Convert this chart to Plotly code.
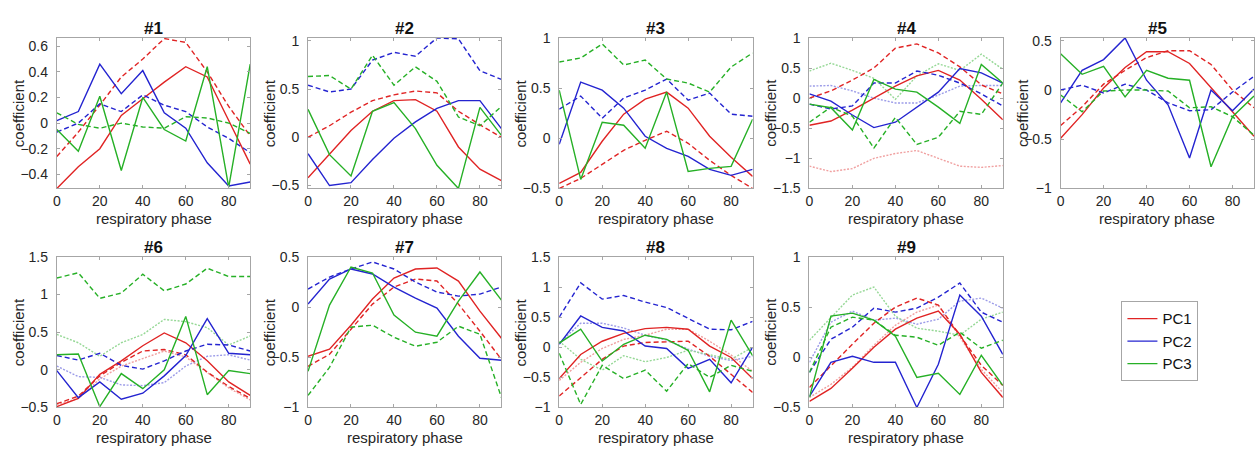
import plotly.graph_objects as go

PHASE = [0, 10, 20, 30, 40, 50, 60, 70, 80, 90]
X_TICKS = [0, 20, 40, 60, 80]
TITLES = ["#1", "#2", "#3", "#4", "#5", "#6", "#7", "#8", "#9"]
LEGEND_NAMES = ["PC1", "PC2", "PC3"]

# ---- panel #1
P1_PC1 = [-0.51, -0.34, -0.20, 0.06, 0.19, 0.32, 0.44, 0.36, 0.02, -0.32]
P1_PC1_DASH = [-0.26, -0.07, 0.14, 0.36, 0.50, 0.66, 0.63, 0.40, 0.13, -0.10]
P1_PC2 = [0.02, 0.09, 0.46, 0.23, 0.41, 0.08, -0.04, -0.31, -0.49, -0.46]
P1_PC2_DASH = [-0.07, 0.00, 0.15, 0.09, 0.22, 0.14, 0.09, -0.03, -0.12, -0.23]
P1_PC3 = [-0.05, -0.22, 0.21, -0.37, 0.20, -0.05, -0.14, 0.44, -0.50, 0.46]
P1_PC3_DASH = [0.08, -0.01, -0.04, 0.00, -0.03, -0.04, 0.05, 0.04, 0.00, -0.08]

# ---- panel #2
P2_PC1 = [-0.42, -0.17, 0.07, 0.27, 0.38, 0.39, 0.27, -0.10, -0.33, -0.45]
P2_PC1_DASH = [0.00, 0.12, 0.26, 0.38, 0.44, 0.48, 0.46, 0.27, 0.13, 0.00]
P2_PC2 = [-0.17, -0.50, -0.47, -0.23, -0.01, 0.16, 0.30, 0.38, 0.38, 0.09]
P2_PC2_DASH = [0.54, 0.47, 0.50, 0.80, 0.88, 0.84, 1.03, 1.02, 0.69, 0.60]
P2_PC3 = [0.29, -0.18, -0.40, 0.27, 0.36, 0.09, -0.29, -0.53, 0.31, 0.02]
P2_PC3_DASH = [0.63, 0.64, 0.50, 0.85, 0.54, 0.73, 0.58, 0.21, 0.12, 0.32]

# ---- panel #3
P3_PC1 = [-0.45, -0.34, -0.03, 0.24, 0.39, 0.46, 0.30, 0.02, -0.19, -0.38]
P3_PC1_DASH = [-0.50, -0.40, -0.26, -0.12, -0.02, 0.07, -0.05, -0.22, -0.37, -0.50]
P3_PC2 = [-0.06, 0.56, 0.48, 0.30, 0.02, -0.10, -0.18, -0.31, -0.37, -0.31]
P3_PC2_DASH = [0.29, 0.42, 0.20, 0.40, 0.48, 0.59, 0.38, 0.45, 0.24, 0.22]
P3_PC3 = [0.48, -0.41, 0.16, 0.13, -0.10, 0.46, -0.33, -0.30, -0.28, 0.19]
P3_PC3_DASH = [0.76, 0.80, 0.94, 0.73, 0.78, 0.59, 0.55, 0.46, 0.71, 0.85]

# ---- panel #4
P4_PC1 = [-0.45, -0.38, -0.20, 0.00, 0.20, 0.37, 0.46, 0.30, -0.02, -0.36]
P4_PC1_DASH = [0.00, 0.12, 0.30, 0.50, 0.83, 0.90, 0.75, 0.52, 0.22, 0.07]
P4_PC1_DOT = [-1.13, -1.22, -1.17, -1.00, -0.92, -0.87, -1.00, -1.13, -1.15, -1.12]
P4_PC2 = [0.07, -0.05, -0.28, -0.49, -0.40, -0.15, 0.10, 0.49, 0.42, 0.25]
P4_PC2_DASH = [-0.10, -0.18, -0.13, 0.25, 0.25, 0.45, 0.38, 0.25, 0.07, -0.13]
P4_PC2_DOT = [0.20, 0.21, 0.12, 0.00, -0.08, -0.08, 0.05, 0.20, 0.21, 0.21]
P4_PC3 = [-0.10, -0.16, -0.53, 0.31, 0.15, 0.10, -0.15, -0.42, 0.56, 0.25]
P4_PC3_DASH = [-0.40, -0.15, -0.30, -0.83, -0.32, -0.77, -0.65, -0.22, -0.27, 0.25]
P4_PC3_DOT = [0.45, 0.58, 0.46, 0.33, -0.02, 0.37, 0.57, 0.46, 0.73, 0.48]

# ---- panel #5
P5_PC1 = [-0.49, -0.25, 0.02, 0.23, 0.39, 0.39, 0.27, 0.03, -0.22, -0.47]
P5_PC1_DASH = [-0.36, -0.17, 0.06, 0.20, 0.33, 0.40, 0.40, 0.26, 0.00, -0.18]
P5_PC2 = [-0.13, 0.20, 0.31, 0.53, 0.10, -0.15, -0.69, 0.00, -0.21, 0.01]
P5_PC2_DASH = [0.00, 0.05, -0.03, 0.06, 0.00, -0.13, -0.21, -0.20, -0.02, 0.14]
P5_PC3 = [0.37, 0.16, 0.24, -0.07, 0.20, 0.12, 0.10, -0.78, -0.27, -0.06]
P5_PC3_DASH = [-0.05, -0.22, -0.01, 0.00, 0.00, -0.01, -0.18, -0.17, -0.27, -0.46]

# ---- panel #6
P6_PC1 = [-0.49, -0.38, -0.06, 0.12, 0.32, 0.49, 0.36, 0.12, -0.16, -0.34]
P6_PC1_DASH = [-0.45, -0.35, -0.08, 0.10, 0.25, 0.27, 0.20, -0.03, -0.22, -0.38]
P6_PC1_DOT = [-0.46, -0.38, -0.12, 0.05, 0.15, 0.25, 0.17, -0.04, -0.24, -0.40]
P6_PC2 = [-0.01, -0.37, -0.16, -0.39, -0.31, -0.08, 0.19, 0.68, 0.22, 0.20]
P6_PC2_DASH = [0.19, 0.13, 0.22, 0.06, 0.01, 0.12, 0.25, 0.34, 0.33, 0.25]
P6_PC2_DOT = [0.05, -0.09, -0.10, -0.20, -0.21, -0.17, 0.05, 0.18, 0.20, 0.13]
P6_PC3 = [0.20, 0.21, -0.49, -0.05, -0.25, 0.00, 0.71, -0.33, -0.01, -0.05]
P6_PC3_DASH = [1.22, 1.29, 0.95, 1.02, 1.27, 1.05, 1.14, 1.35, 1.24, 1.24]
P6_PC3_DOT = [0.47, 0.36, 0.18, 0.36, 0.47, 0.67, 0.64, 0.56, 0.33, 0.45]

# ---- panel #7
P7_PC1 = [-0.49, -0.42, -0.18, 0.08, 0.29, 0.38, 0.39, 0.26, -0.04, -0.31]
P7_PC1_DASH = [-0.59, -0.47, -0.22, 0.03, 0.20, 0.28, 0.26, 0.03, -0.24, -0.52]
P7_PC2 = [0.03, 0.28, 0.38, 0.33, 0.20, 0.09, -0.01, -0.29, -0.51, -0.53]
P7_PC2_DASH = [0.18, 0.30, 0.38, 0.45, 0.38, 0.25, 0.15, 0.11, 0.13, 0.20]
P7_PC3 = [-0.64, 0.02, 0.40, 0.34, -0.08, -0.25, -0.29, 0.06, 0.35, 0.07]
P7_PC3_DASH = [-0.88, -0.60, -0.20, -0.18, -0.30, -0.39, -0.35, -0.19, -0.27, -0.90]

# ---- panel #8
P8_PC1 = [-0.52, -0.12, 0.10, 0.23, 0.31, 0.33, 0.30, 0.02, -0.17, -0.52]
P8_PC1_DASH = [-0.81, -0.50, -0.20, 0.02, 0.08, 0.09, 0.10, -0.15, -0.45, -0.75]
P8_PC1_DOT = [-0.55, -0.25, -0.02, 0.13, 0.20, 0.30, 0.30, 0.10, -0.13, -0.40]
P8_PC2 = [0.05, 0.52, 0.33, 0.27, 0.02, -0.02, -0.35, -0.20, -0.59, 0.00]
P8_PC2_DASH = [0.50, 1.07, 0.80, 0.86, 0.75, 0.66, 0.48, 0.30, 0.29, 0.43]
P8_PC2_DOT = [0.07, 0.40, 0.40, 0.32, 0.20, 0.12, -0.03, -0.15, -0.22, -0.15]
P8_PC3 = [0.07, 0.30, -0.23, 0.05, 0.20, 0.13, -0.05, -0.74, 0.45, -0.14]
P8_PC3_DASH = [-0.10, -0.95, -0.30, -0.52, -0.38, -0.73, -0.27, -0.50, -0.30, -0.40]
P8_PC3_DOT = [0.10, -0.20, -0.38, -0.14, -0.24, -0.17, -0.05, -0.12, -0.20, 0.00]

# ---- panel #9
P9_PC1 = [-0.44, -0.31, -0.11, 0.10, 0.28, 0.39, 0.46, 0.23, -0.15, -0.40]
P9_PC1_DASH = [-0.30, -0.08, 0.13, 0.34, 0.50, 0.59, 0.52, 0.22, -0.08, -0.28]
P9_PC1_DOT = [-0.40, -0.27, -0.10, 0.12, 0.32, 0.45, 0.52, 0.20, -0.12, -0.35]
P9_PC2 = [-0.39, -0.05, 0.01, -0.05, -0.05, -0.50, -0.07, 0.62, 0.41, 0.03]
P9_PC2_DASH = [-0.15, 0.18, 0.30, 0.49, 0.45, 0.49, 0.60, 0.74, 0.45, 0.35]
P9_PC2_DOT = [-0.05, 0.35, 0.46, 0.37, 0.39, 0.33, 0.38, 0.56, 0.59, 0.49]
P9_PC3 = [-0.40, 0.41, 0.44, 0.37, 0.21, -0.20, -0.16, -0.37, 0.02, -0.28]
P9_PC3_DASH = [-0.15, 0.30, 0.40, 0.37, 0.22, 0.20, 0.12, 0.25, 0.09, 0.17]
P9_PC3_DOT = [0.17, 0.40, 0.62, 0.70, 0.41, 0.29, 0.26, 0.22, 0.38, 0.45]

Y_RANGES = [[-0.51, 0.665], [-0.53, 1.03], [-0.5, 1.0], [-1.5, 1.0], [-1.0, 0.53],
            [-0.5, 1.5], [-1.0, 0.5], [-1.0, 1.5], [-0.5, 1.0]]
Y_DTICK = [0.2, 0.5, 0.5, 0.5, 0.5, 0.5, 0.5, 0.5, 0.5]

PANELS = [
    [(P1_PC1, 0, "solid"), (P1_PC1_DASH, 0, "dash"), (P1_PC2, 1, "solid"), (P1_PC2_DASH, 1, "dash"),
     (P1_PC3, 2, "solid"), (P1_PC3_DASH, 2, "dash")],
    [(P2_PC1, 0, "solid"), (P2_PC1_DASH, 0, "dash"), (P2_PC2, 1, "solid"), (P2_PC2_DASH, 1, "dash"),
     (P2_PC3, 2, "solid"), (P2_PC3_DASH, 2, "dash")],
    [(P3_PC1, 0, "solid"), (P3_PC1_DASH, 0, "dash"), (P3_PC2, 1, "solid"), (P3_PC2_DASH, 1, "dash"),
     (P3_PC3, 2, "solid"), (P3_PC3_DASH, 2, "dash")],
    [(P4_PC1_DOT, 0, "dot"), (P4_PC2_DOT, 1, "dot"), (P4_PC3_DOT, 2, "dot"),
     (P4_PC1, 0, "solid"), (P4_PC1_DASH, 0, "dash"), (P4_PC2, 1, "solid"), (P4_PC2_DASH, 1, "dash"),
     (P4_PC3, 2, "solid"), (P4_PC3_DASH, 2, "dash")],
    [(P5_PC1, 0, "solid"), (P5_PC1_DASH, 0, "dash"), (P5_PC2, 1, "solid"), (P5_PC2_DASH, 1, "dash"),
     (P5_PC3, 2, "solid"), (P5_PC3_DASH, 2, "dash")],
    [(P6_PC1_DOT, 0, "dot"), (P6_PC2_DOT, 1, "dot"), (P6_PC3_DOT, 2, "dot"),
     (P6_PC1, 0, "solid"), (P6_PC1_DASH, 0, "dash"), (P6_PC2, 1, "solid"), (P6_PC2_DASH, 1, "dash"),
     (P6_PC3, 2, "solid"), (P6_PC3_DASH, 2, "dash")],
    [(P7_PC1, 0, "solid"), (P7_PC1_DASH, 0, "dash"), (P7_PC2, 1, "solid"), (P7_PC2_DASH, 1, "dash"),
     (P7_PC3, 2, "solid"), (P7_PC3_DASH, 2, "dash")],
    [(P8_PC1_DOT, 0, "dot"), (P8_PC2_DOT, 1, "dot"), (P8_PC3_DOT, 2, "dot"),
     (P8_PC1, 0, "solid"), (P8_PC1_DASH, 0, "dash"), (P8_PC2, 1, "solid"), (P8_PC2_DASH, 1, "dash"),
     (P8_PC3, 2, "solid"), (P8_PC3_DASH, 2, "dash")],
    [(P9_PC1_DOT, 0, "dot"), (P9_PC2_DOT, 1, "dot"), (P9_PC3_DOT, 2, "dot"),
     (P9_PC1, 0, "solid"), (P9_PC1_DASH, 0, "dash"), (P9_PC2, 1, "solid"), (P9_PC2_DASH, 1, "dash"),
     (P9_PC3, 2, "solid"), (P9_PC3_DASH, 2, "dash")],
]

# ---------------- styling ----------------
W, H = 1255, 456
FONT = "Liberation Sans, Arial, sans-serif"
TXT = "#262626"
FRAME = "#a6a6a6"
COLORS = ["#e02424", "#2424d0", "#26b026"]
LIGHT = ["#f0a0a0", "#9c9ce8", "#96d896"]
DASHES = {"solid": "solid", "dash": "5px,3px", "dot": "2px,1.5px"}

LEFTS = [53, 305, 557, 808, 1060]
TOPS = [31, 258]
PW, PH = 194, 156

fig = go.Figure()
layout = dict(
    width=W, height=H, margin=dict(l=0, r=0, t=0, b=0),
    paper_bgcolor="white", plot_bgcolor="white",
    font=dict(family=FONT, color=TXT, size=14),
    showlegend=True,
    legend=dict(x=1121 / W, y=1 - 304 / H, xanchor="left", yanchor="top",
                bgcolor="white", bordercolor="#a6a6a6", borderwidth=1,
                font=dict(size=15, color="#111111"), tracegroupgap=0,
                itemwidth=30),
)
annotations = []

for i, series in enumerate(PANELS):
    col, row = i % 5, i // 5
    left, top = LEFTS[col], TOPS[row]
    ax = "" if i == 0 else str(i + 1)
    xd = [left / W, (left + PW) / W]
    yd = [1 - (top + PH) / H, 1 - top / H]
    axis_common = dict(showline=True, mirror="allticks", linecolor=FRAME, linewidth=1,
                       ticks="inside", ticklen=3, tickcolor=FRAME, showgrid=False,
                       zeroline=False, tickfont=dict(size=14, color=TXT), fixedrange=True)
    layout["xaxis" + ax] = dict(domain=xd, range=[0, 90], tickvals=X_TICKS,
                                anchor="y" + ax, **axis_common)
    layout["yaxis" + ax] = dict(domain=yd, range=Y_RANGES[i], dtick=Y_DTICK[i], tick0=0,
                                anchor="x" + ax, ticklabelstandoff=5, **axis_common)
    for vals, c, style in series:
        color = LIGHT[c] if style == "dot" else COLORS[c]
        show = (i == 0 and style == "solid")
        fig.add_trace(go.Scatter(
            x=PHASE, y=vals, mode="lines", xaxis="x" + ax, yaxis="y" + ax,
            line=dict(color=color, width=1.4, dash=DASHES[style]),
            name=LEGEND_NAMES[c], showlegend=show, hoverinfo="skip"))
    cx = left + PW / 2
    annotations.append(dict(text="<b>" + TITLES[i] + "</b>", x=cx / W, y=1 - (top - 10) / H,
                            xref="paper", yref="paper",
                            showarrow=False, font=dict(size=17, color="#111111"),
                            xanchor="center", yanchor="middle"))
    annotations.append(dict(text="respiratory phase", x=cx / W, y=1 - (top + PH + 31) / H,
                            xref="paper", yref="paper", showarrow=False,
                            font=dict(size=15, color=TXT), xanchor="center", yanchor="middle"))
    annotations.append(dict(text="coefficient", x=(left - 39) / W, y=1 - (top + PH / 2) / H,
                            xref="paper", yref="paper", showarrow=False, textangle=-90,
                            font=dict(size=15, color=TXT), xanchor="center", yanchor="middle"))

layout["annotations"] = annotations
fig.update_layout(**layout)
fig.write_html("out.html", config={"displayModeBar": False},
               post_script="document.body.style.margin='0px';document.body.style.overflow='hidden';")
